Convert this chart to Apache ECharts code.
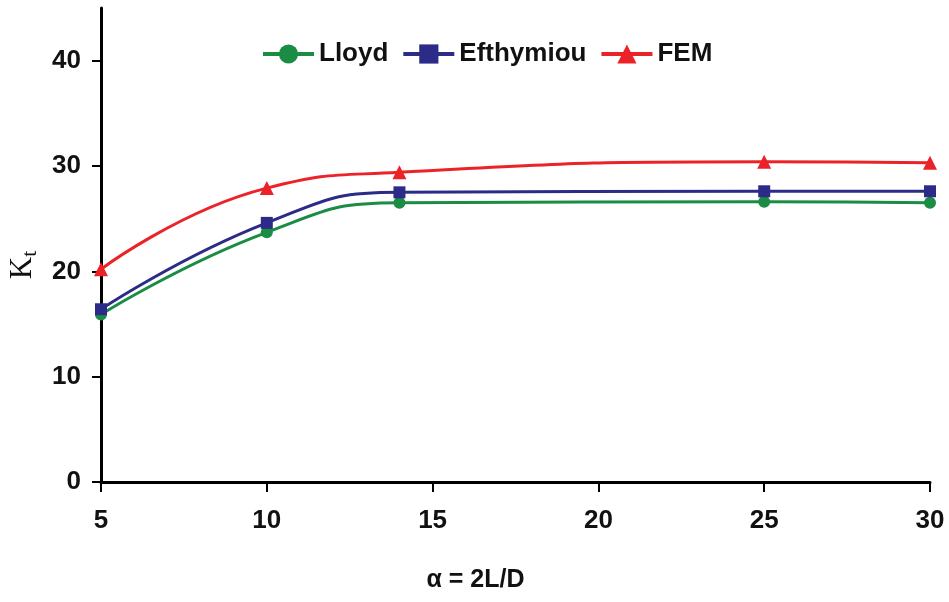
<!DOCTYPE html>
<html>
<head>
<meta charset="utf-8">
<script src="https://cdn.jsdelivr.net/npm/echarts@6/dist/echarts.min.js"></script>
<style>
html,body{margin:0;padding:0;background:#fff;}
#chart{width:949px;height:602px;}
</style>
</head>
<body>
<div id="chart"></div>
<script>
const alphaValues = [5, 10, 14, 25, 30];
const lloyd = [15.9, 23.7, 26.5, 26.6, 26.5];
const efthymiou = [16.4, 24.6, 27.5, 27.6, 27.6];
const fem = [20.2, 27.9, 29.4, 30.4, 30.3];
const seriesNames = ['Lloyd', 'Efthymiou', 'FEM'];
const xTicks = [5, 10, 15, 20, 25, 30];
const yTicks = [0, 10, 20, 30, 40];

const font = '"Liberation Sans", Arial, sans-serif';
const colors = ['#1a8c44', '#2c2c88', '#ec2229'];
const symbols = ['circle', 'rect', 'triangle'];
const dataSets = [lloyd, efthymiou, fem];

const chart = echarts.init(document.getElementById('chart'));
chart.setOption({
  animation: false,
  backgroundColor: '#fff',
  grid: { left: 101, right: 19, top: 8, bottom: 120, containLabel: false, outerBoundsMode: 'none' },
  legend: {
    left: 256, top: 36,
    itemWidth: 51, itemHeight: 24, itemGap: 13,
    lineStyle: { width: 4 },
    textStyle: { fontFamily: font, fontWeight: 'bold', fontSize: 26, color: '#111' },
    data: seriesNames
  },
  xAxis: {
    type: 'value', min: 5, max: 30, interval: 5,
    name: 'α = 2L/D', nameLocation: 'middle', nameGap: 86,
    nameTextStyle: { fontFamily: font, fontWeight: 'bold', fontSize: 25, color: '#111', padding: [0, 80, 0, 0] },
    axisLine: { show: true, onZero: false, lineStyle: { color: '#000', width: 3 } },
    axisTick: { show: true, inside: false, length: 10, lineStyle: { color: '#000', width: 2 } },
    axisLabel: { margin: 26, fontFamily: font, fontWeight: 'bold', fontSize: 26, color: '#111',
      formatter: v => xTicks.indexOf(v) >= 0 ? String(v) : '' },
    splitLine: { show: false }
  },
  yAxis: {
    type: 'value', min: 0, max: 45, interval: 10,
    name: '{k|K}{t|t}', nameLocation: 'middle', nameGap: 60, nameRotate: 90,
    nameTextStyle: {
      padding: [0, 40, 0, 0],
      rich: {
        k: { fontFamily: '"Liberation Serif", "Times New Roman", serif', fontSize: 31, color: '#111' },
        t: { fontFamily: '"Liberation Serif", "Times New Roman", serif', fontSize: 22, color: '#111', padding: [14, 0, 0, 0] }
      }
    },
    axisLine: { show: true, lineStyle: { color: '#000', width: 3 } },
    axisTick: { show: true, inside: false, length: 9, lineStyle: { color: '#000', width: 2 } },
    axisLabel: { margin: 20, showMaxLabel: false, fontFamily: font, fontWeight: 'bold', fontSize: 26, color: '#111',
      formatter: v => yTicks.indexOf(v) >= 0 ? String(v) : '' },
    splitLine: { show: false }
  },
  series: seriesNames.map((name, i) => ({
    name: name,
    type: 'line',
    smooth: 0.5,
    symbol: symbols[i],
    symbolSize: i === 2 ? 14 : 12,
    showAllSymbol: true,
    color: colors[i],
    lineStyle: { width: 3, color: colors[i] },
    itemStyle: { color: colors[i] },
    data: alphaValues.map((x, j) => [x, dataSets[i][j]])
  }))
});
</script>
</body>
</html>
